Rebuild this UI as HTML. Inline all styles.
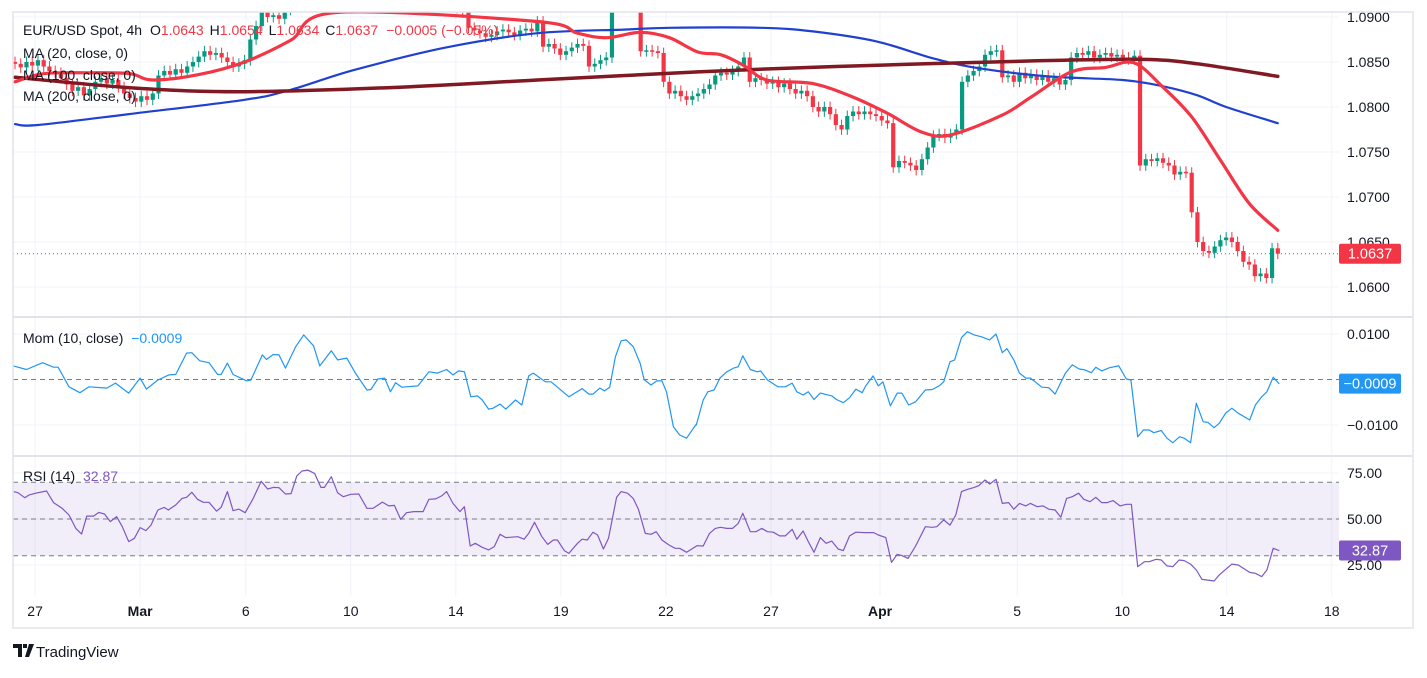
<!DOCTYPE html>
<html><head><meta charset="utf-8">
<style>
html,body{margin:0;padding:0;background:#fff;}
body{width:1427px;height:673px;overflow:hidden;font-family:"Liberation Sans",sans-serif;}
svg text{font-family:"Liberation Sans",sans-serif;}
</style></head>
<body>
<svg id="chart" width="1427" height="673" viewBox="0 0 1427 673" xmlns="http://www.w3.org/2000/svg">
<defs>
<clipPath id="cp-price"><rect x="13" y="12" width="1326" height="305"/></clipPath>
<clipPath id="cp-mom"><rect x="13" y="318" width="1326" height="138"/></clipPath>
<clipPath id="cp-rsi"><rect x="13" y="457" width="1326" height="139"/></clipPath>
</defs>
<g id="grid"></g>
<g id="rsi-band"></g>
<g id="candles" clip-path="url(#cp-price)"></g>
<g id="mas" clip-path="url(#cp-price)"></g>
<g id="mom" clip-path="url(#cp-mom)"></g>
<g id="rsi" clip-path="url(#cp-rsi)"></g>
<g id="axes"></g>
<rect x="13" y="12" width="1400" height="616" fill="none" stroke="#e0e3eb" stroke-width="1.5"/>
<line x1="13" x2="1413" y1="317" y2="317" stroke="#e0e3eb" stroke-width="2"/>
<line x1="13" x2="1413" y1="456" y2="456" stroke="#e0e3eb" stroke-width="2"/>
<g font-size="14" fill="#131722">
<text x="23" y="35">EUR/USD Spot, 4h <tspan dx="4">O</tspan><tspan fill="#f23645">1.0643</tspan><tspan dx="6">H</tspan><tspan fill="#f23645">1.0654</tspan><tspan dx="6">L</tspan><tspan fill="#f23645">1.0634</tspan><tspan dx="6">C</tspan><tspan fill="#f23645">1.0637</tspan><tspan dx="8" fill="#f23645">−0.0005 (−0.05%)</tspan></text>
<text x="23" y="58">MA (20, close, 0)</text>
<text x="23" y="80">MA (100, close, 0)</text>
<text x="23" y="101">MA (200, close, 0)</text>
</g>
<text x="23" y="343" font-size="14" fill="#131722">Mom (10, close) <tspan dx="4" fill="#2196f3">−0.0009</tspan></text>
<text x="23" y="481" font-size="14" fill="#131722">RSI (14) <tspan dx="4" fill="#7e57c2">32.87</tspan></text>
<g>
<path d="M13 644h9v13h-4v-9h-5z M23 644h4v4h-4z M29 644h5l-5 13h-4z" fill="#131722"/>
<text x="36" y="657" font-size="15" fill="#131722">TradingView</text>
</g>
</svg>
<script>
// ---- data ----
const closes = [1.0848,1.0844,1.0850,1.0846,1.0852,1.0845,1.0840,1.0838,
1.0832,1.0825,1.0818,1.0822,1.0813,1.0820,
1.0828,1.0832,1.0826,1.0830,1.0822,1.0815,1.0810,
1.0806,1.0812,1.0808,1.0815,1.0835,
1.0840,1.0836,1.0842,1.0838,1.0845,
1.0850,1.0856,1.0862,1.0858,1.0860,1.0855,
1.0850,1.0845,1.0848,1.0852,1.0875,
1.0890,1.0905,1.0900,1.0902,1.0898,1.0908,1.0915,
1.0930,1.0945,1.0960,1.0970,1.0965,1.0960,1.0955,1.0950,1.0945,1.0940,1.0935,1.0938,1.0930,1.0925,1.0935,1.0930,1.0928,1.0935,1.0940,1.0932,1.0928,1.0925,1.0930,1.0935,1.0928,1.0922,1.0918,1.0915,1.0910,1.0905,
1.0888,1.0885,1.0882,1.0878,1.0880,1.0884,1.0886,1.0883,1.0880,1.0885,1.0887,1.0884,
1.0895,1.0867,
1.0870,1.0865,1.0858,1.0862,1.0866,1.0870,1.0868,1.0845,1.0848,1.0852,1.0855,
1.0925,1.0935,1.0940,1.0938,1.0930,
1.0862,1.0863,1.0862,1.0860,1.0828,1.0815,1.0818,1.0812,1.0808,1.0812,
1.0815,1.0820,1.0825,
1.0835,1.0838,1.0836,1.0840,1.0845,1.0855,
1.0828,
1.0832,1.0830,1.0826,1.0828,1.0822,1.0826,1.0820,1.0815,1.0818,
1.0812,1.0800,1.0795,1.0800,1.0792,1.0780,1.0775,1.0790,
1.0795,1.0792,1.0795,1.0792,1.0790,1.0785,1.0782,
1.0733,
1.0740,1.0738,1.0735,1.0730,
1.0742,1.0755,1.0768,1.0770,1.0766,1.0770,1.0775,
1.0828,1.0835,1.0840,1.0845,1.0858,1.0862,
1.0863,1.0833,
1.0835,1.0828,1.0838,1.0832,1.0836,1.0830,1.0835,1.0828,1.0832,1.0825,1.0830,
1.0855,1.0860,1.0858,1.0862,1.0855,1.0858,1.0860,1.0856,1.0858,1.0855,1.0853,1.0857,
1.0735,
1.0742,1.0740,1.0743,1.0738,
1.0735,1.0725,1.0728,1.0727,
1.0683,1.0650,
1.0640,1.0638,1.0645,1.0652,1.0655,1.0650,1.0640,
1.0628,1.0625,1.0612,1.0615,1.0610,1.0643,1.0637];
const firstOpen = 1.0850;

const ma20Idx = [0,5,13,20,24,32,40,48,56,91,98,103,109,114,119,123,127,131,139,146,152,158,163,172,177,184,190,195,200,205,210,215,220];
const ma20Val = [1.0828,1.0837,1.0838,1.0837,1.0830,1.0836,1.0850,1.0874,1.0905,1.0895,1.0882,1.0877,1.0883,1.0877,1.0861,1.0858,1.0846,1.0830,1.0826,1.0811,1.0793,1.0772,1.0769,1.0791,1.0811,1.0839,1.0844,1.0849,1.0822,1.0789,1.0741,1.0693,1.0663];
const ma100Idx = [0,4,21,40,48,59,75,91,106,114,130,139,150,160,168,180,193,200,206,211,220];
const ma100Val = [1.0781,1.0780,1.0793,1.0808,1.0819,1.0841,1.0866,1.0882,1.0886,1.0888,1.0888,1.0884,1.0873,1.0854,1.0843,1.0834,1.0830,1.0823,1.0813,1.0800,1.0782];
const ma200Idx = [0,21,40,67,91,119,143,176,196,206,220];
const ma200Val = [1.0833,1.0821,1.0817,1.0822,1.0830,1.0839,1.0845,1.0851,1.0853,1.0848,1.0834];

const momIdx = [-0.3,2.0,4.8,6.7,7.5,9.4,11.3,12.9,16.0,17.5,19.8,21.8,22.9,24.9,26.8,28.0,29.9,30.8,32.2,33.8,35.3,35.9,37.0,38.0,40.4,41.1,43.1,43.8,45.0,46.0,47.1,48.9,50.3,52.0,53.1,55.1,56.2,57.8,59.3,61.3,62.0,63.2,64.4,65.4,66.3,67.4,70.2,72.1,73.6,75.2,76.3,77.3,78.3,79.4,80.6,81.4,82.5,83.3,84.5,85.5,87.2,88.3,89.5,90.3,92.4,93.4,96.5,98.8,100.0,100.7,101.9,102.7,103.6,104.6,105.6,106.5,107.7,108.9,109.6,110.8,111.8,112.7,113.5,114.7,115.8,117.0,118.8,
118.7,119.9,120.7,121.8,122.8,124.0,125.2,126.0,126.8,128.1,129.3,129.9,131.1,132.9,134.2,135.4,136.2,137.3,138.2,139.2,140.3,142.3,143.1,144.3,145.4,146.5,147.6,148.2,149.5,150.4,151.2,152.5,153.7,154.5,155.7,156.9,158.6,159.8,161.0,161.8,162.9,163.7,164.9,165.9,167.1,168.3,169.8,170.9,172.0,172.8,174.0,175.0,176.1,176.9,178.9,180.1,181.2,183.0,184.2,185.4,186.4,187.5,188.3,189.3,190.7,192.3,193.6,194.4,195.6,196.6,197.6,198.4,199.7,200.7,201.7,202.9,203.7,204.8,205.8,207.0,207.8,208.9,209.8,210.9,212.0,213.1,215.1,216.1,217.2,218.1,219.2,220.2];
// momentum in pips (x0.0001)
const momVal = [30,22,37,27,27,-16,-29,-16,-19,-8,-30,3,-21,-1,10,11,58,59,41,37,11,11,36,11,-3,-1,54,44,55,54,25,72,98,74,30,63,43,47,14,-23,-22,1,3,-27,-7,-17,-14,17,14,22,10,19,17,-38,-36,-45,-65,-63,-54,-65,-45,-56,8,14,-5,-5,-38,-20,-32,-32,-19,-25,-17,50,85,87,72,36,0,-12,-3,-3,-27,-104,-122,-129,-96,
-100,-45,-27,-23,3,17,25,28,52,22,17,19,-1,-16,-16,-8,-27,-34,-27,-44,-30,-36,-44,-51,-40,-21,-29,-14,8,-14,-5,-58,-30,-30,-56,-49,-23,-22,-14,-5,39,43,92,105,98,94,87,100,59,68,43,14,3,3,-17,-18,-32,14,32,23,21,15,27,19,26,30,1,-1,-126,-111,-111,-117,-112,-129,-139,-126,-129,-139,-52,-93,-94,-106,-96,-74,-63,-74,-89,-56,-38,-27,5,-9];

const rsiIdx = [-0.3,0.5,1.7,2.4,3.6,5.5,6.7,8.2,9.4,10.6,11.6,12.5,13.7,14.6,15.6,16.6,17.7,18.7,19.8,20.8,21.8,22.8,23.7,24.9,26.0,26.7,28.0,29.1,29.9,30.8,31.8,32.8,33.8,35.1,35.9,37.0,38.0,39.0,40.1,41.5,42.9,44.0,45.0,46.0,47.1,48.1,49.1,50.0,51.0,52.2,53.3,53.9,55.1,56.2,57.2,58.5,59.9,61.3,62.4,64.0,65.1,66.1,67.2,68.2,69.5,71.1,72.1,73.3,74.4,75.2,76.3,77.5,78.3,79.3,80.2,81.4,82.5,83.5,84.5,85.5,87.6,88.7,89.5,90.5,91.8,92.8,93.8,94.5,95.7,96.5,98.0,98.8,99.7,100.7,101.5,102.5,103.4,104.8,105.6,106.7,107.7,108.6,109.8,110.8,111.7,112.7,113.9,115.0,115.8,117.0,118.8,
119.9,121.0,122.0,122.9,124.0,125.0,126.0,126.8,128.1,129.1,130.1,131.1,132.1,133.2,134.2,135.4,136.2,137.3,138.2,139.2,140.3,141.3,142.3,143.4,144.3,145.4,146.5,148.0,149.6,150.4,151.7,152.7,153.7,154.5,155.6,156.9,158.6,159.8,160.6,161.8,162.9,163.9,164.9,165.9,167.1,167.9,169.0,169.8,170.9,172.0,173.1,174.0,175.0,176.1,176.9,178.1,179.1,180.1,181.2,182.2,183.2,184.2,185.3,186.2,187.3,188.3,189.3,190.3,191.3,192.5,193.6,194.5,195.6,196.8,197.6,198.8,199.7,200.7,201.7,202.8,203.7,204.8,205.8,206.8,207.8,208.9,209.8,210.9,212.0,213.1,215.1,216.1,217.2,218.1,219.2,220.2];
const rsiVal = [64.9,64.3,61.6,63,64,65.2,58.9,55.8,52.2,44.9,41.8,51.6,51.6,53.6,52.7,48.6,51.3,45.8,37.7,39.5,45.3,43.7,46.7,54.9,56.3,54.9,57.6,61.2,61.8,64.5,60.7,59.1,59.1,54.3,56.3,64.9,54.5,55.4,53.4,61.2,70.5,66.3,67.2,67,63.6,63.8,73.4,76.1,76.6,74.8,67.2,67.2,73,64.3,62.1,63.4,63.6,55.8,55.8,59.2,57.1,57.4,49.8,53.4,54,54,60.7,60.9,62.7,64.9,58.5,54,56.7,35.3,36.8,34.6,33.2,35,41.7,39.9,40.4,39,42.2,48.2,40.4,36.2,38.6,38.6,32.8,31.3,36.8,39,38.6,42.8,41.3,33.7,39.5,61.8,64.9,64,61.2,55.3,42.2,41.7,43.1,38.6,35.9,34.1,34.1,31.9,35.5,
35.3,42.2,44.9,45.5,44.9,44.9,47.6,53.1,43.1,43.1,44.9,43.1,42.8,40.8,40.8,44.4,39,43.5,37.7,31.9,39.9,36.8,38,33.7,32.8,40.8,42.8,42.6,42.6,41.3,39.9,26.4,30.8,30.1,28.6,35.3,45.8,45.5,45.8,49.5,46.7,52.2,64.9,66.1,67.2,68.1,71.2,69,71.6,58.5,58.9,55.3,58.5,57.1,58.5,56.7,57.1,55.3,54.9,50.9,61.2,62.1,64,60.7,59.4,61.8,58.9,58.9,60,57.1,58,58,24.1,26.8,26.8,28.1,27.7,24.5,24.1,27.7,27.4,25.5,22.3,17.2,16.8,16.3,19.6,22.6,25.5,25,21,20.5,18.7,22.3,34.1,32.87];

const dateLabels = ["27","Mar","6","10","14","19","22","27","Apr","5","10","14","18"];
const dateIdx = [3.5,21.8,40.2,58.5,76.8,95.1,113.4,131.7,150.7,174.6,192.9,211.1,229.4];
const priceTicks = [1.0900,1.0850,1.0800,1.0750,1.0700,1.0650,1.0600];
const momTicks = [100,-100];
const rsiTicks = [75,50,25];
const lastPrice = 1.0637, lastMom = -9, lastRsi = 32.87;

// ---- scales ----
const X = i => 15 + i * 5.74;
const PY = p => 17 + (1.09 - p) * 9000;
const MY = v => 379.5 - v * 0.455;
const RY = v => 519 - (v - 50) * 1.84;
const NS = "http://www.w3.org/2000/svg";
function mk(tag, parent, attrs) {
  const e = document.createElementNS(NS, tag);
  for (const k in attrs) e.setAttribute(k, attrs[k]);
  parent.appendChild(e);
  return e;
}
const G = id => document.getElementById(id);

// grid
const grid = G('grid');
dateIdx.forEach((d, k) => {
  const l = mk('line', grid, {x1: X(d), x2: X(d), y1: 12, y2: 596, stroke: '#f0f3fa', 'stroke-width': 1});
  
  
});
priceTicks.forEach(p => {
  const l = mk('line', grid, {x1: 13, x2: 1339, y1: PY(p), y2: PY(p), stroke: '#f0f3fa'});
  
  
});
momTicks.forEach(v => {
  const l = mk('line', grid, {x1: 13, x2: 1339, y1: MY(v), y2: MY(v), stroke: '#f0f3fa'});
  
  
});
rsiTicks.forEach(v => {
  const l = mk('line', grid, {x1: 13, x2: 1339, y1: RY(v), y2: RY(v), stroke: '#f0f3fa'});
  
  
});

// rsi band
const band = G('rsi-band');
const br = mk('rect', band, {x: 13, y: RY(70), width: 1326, height: RY(30) - RY(70), fill: '#7e57c2', 'fill-opacity': 0.1});


[70, 50, 30].forEach(v => {
  const l = mk('line', band, {x1: 13, x2: 1339, y1: RY(v), y2: RY(v), stroke: '#787b86', 'stroke-dasharray': '5 4', 'stroke-width': 1});
  
  
});

// candles
const cg = G('candles');
closes.forEach((c, i) => {
  const o = i === 0 ? firstOpen : closes[i - 1];
  const hi = Math.max(o, c) + 0.0006, lo = Math.min(o, c) - 0.0006;
  const col = c >= o ? '#089981' : '#f23645';
  const x = X(i);
  const w = mk('line', cg, {x1: x, x2: x, y1: PY(hi), y2: PY(lo), stroke: col, 'stroke-width': 1});
  
  
  const top = PY(Math.max(o, c)), h = Math.max(1.5, PY(Math.min(o, c)) - top);
  const b = mk('rect', cg, {x: x - 2.1, y: top, width: 4.2, height: h, fill: col});
  
  
});
// last price line
const lp = mk('line', cg, {x1: 13, x2: 1339, y1: PY(lastPrice), y2: PY(lastPrice), stroke: '#f23645', 'stroke-dasharray': '1 3', 'stroke-width': 1});



// lines
function poly(parent, idx, vals, yf, color, width, name) {
  const pts = idx.map((d, k) => X(d).toFixed(1) + ',' + yf(vals[k]).toFixed(1)).join(' ');
  const p = mk('polyline', parent, {points: pts, fill: 'none', stroke: color, 'stroke-width': width, 'stroke-linejoin': 'round', 'stroke-linecap': 'round'});
  
  
}
function smooth(parent, idx, vals, yf, color, width, name) {
  const P = idx.map((d, k) => [X(d), yf(vals[k])]);
  let d = 'M' + P[0][0].toFixed(1) + ',' + P[0][1].toFixed(1);
  for (let k = 0; k < P.length - 1; k++) {
    const p0 = P[Math.max(0, k - 1)], p1 = P[k], p2 = P[k + 1], p3 = P[Math.min(P.length - 1, k + 2)];
    const c1 = [p1[0] + (p2[0] - p0[0]) / 6, p1[1] + (p2[1] - p0[1]) / 6];
    const c2 = [p2[0] - (p3[0] - p1[0]) / 6, p2[1] - (p3[1] - p1[1]) / 6];
    d += ' C' + c1[0].toFixed(1) + ',' + c1[1].toFixed(1) + ' ' + c2[0].toFixed(1) + ',' + c2[1].toFixed(1) + ' ' + p2[0].toFixed(1) + ',' + p2[1].toFixed(1);
  }
  const p = mk('path', parent, {d: d, fill: 'none', stroke: color, 'stroke-width': width, 'stroke-linecap': 'round'});
  
  
}
const mg = G('mas');
smooth(mg, ma100Idx, ma100Val, PY, '#2040d0', 2.2, 'ma100-line');
smooth(mg, ma200Idx, ma200Val, PY, '#801922', 3.5, 'ma200-line');
smooth(mg, ma20Idx, ma20Val, PY, '#f23645', 3.2, 'ma20-line');

// momentum
const momG = G('mom');
const zl = mk('line', momG, {x1: 13, x2: 1339, y1: MY(0), y2: MY(0), stroke: '#787b86', 'stroke-dasharray': '5 4'});


poly(momG, momIdx, momVal, MY, '#2196f3', 1.2, 'mom-line');

// rsi
poly(G('rsi'), rsiIdx, rsiVal, RY, '#7e57c2', 1.2, 'rsi-line');

// axes labels
const ax = G('axes');
function txt(x, y, s, attrs, name) {
  const t = mk('text', ax, Object.assign({x: x, y: y, 'font-size': 14, fill: '#131722'}, attrs));
  t.textContent = s;
  
  
  return t;
}
priceTicks.forEach(p => txt(1347, PY(p) + 5, p.toFixed(4), {}, 'price-tick'));
momTicks.forEach(v => txt(1347, MY(v) + 5, (v / 10000).toFixed(4).replace('-', '−'), {}, 'mom-tick'));
rsiTicks.forEach(v => txt(1347, RY(v) + 5, v.toFixed(2), {}, 'rsi-tick'));
dateLabels.forEach((s, k) => txt(X(dateIdx[k]), 616, s, {'text-anchor': 'middle', 'font-weight': (s === 'Mar' || s === 'Apr') ? 'bold' : 'normal'}, 'date-tick'));

function badge(y, color, s, name) {
  const r = mk('rect', ax, {x: 1339, y: y - 10, width: 62, height: 20, rx: 2, fill: color});
  
  
  txt(1370, y + 5, s, {fill: '#fff', 'text-anchor': 'middle', 'font-size': 14.5}, name);
}
badge(PY(lastPrice), '#f23645', lastPrice.toFixed(4), 'last-price-label');
badge(MY(lastMom), '#2196f3', (lastMom / 10000).toFixed(4).replace('-', '−'), 'last-mom-label');
badge(RY(lastRsi), '#7e57c2', lastRsi.toFixed(2), 'last-rsi-label');
</script>
</body></html>
